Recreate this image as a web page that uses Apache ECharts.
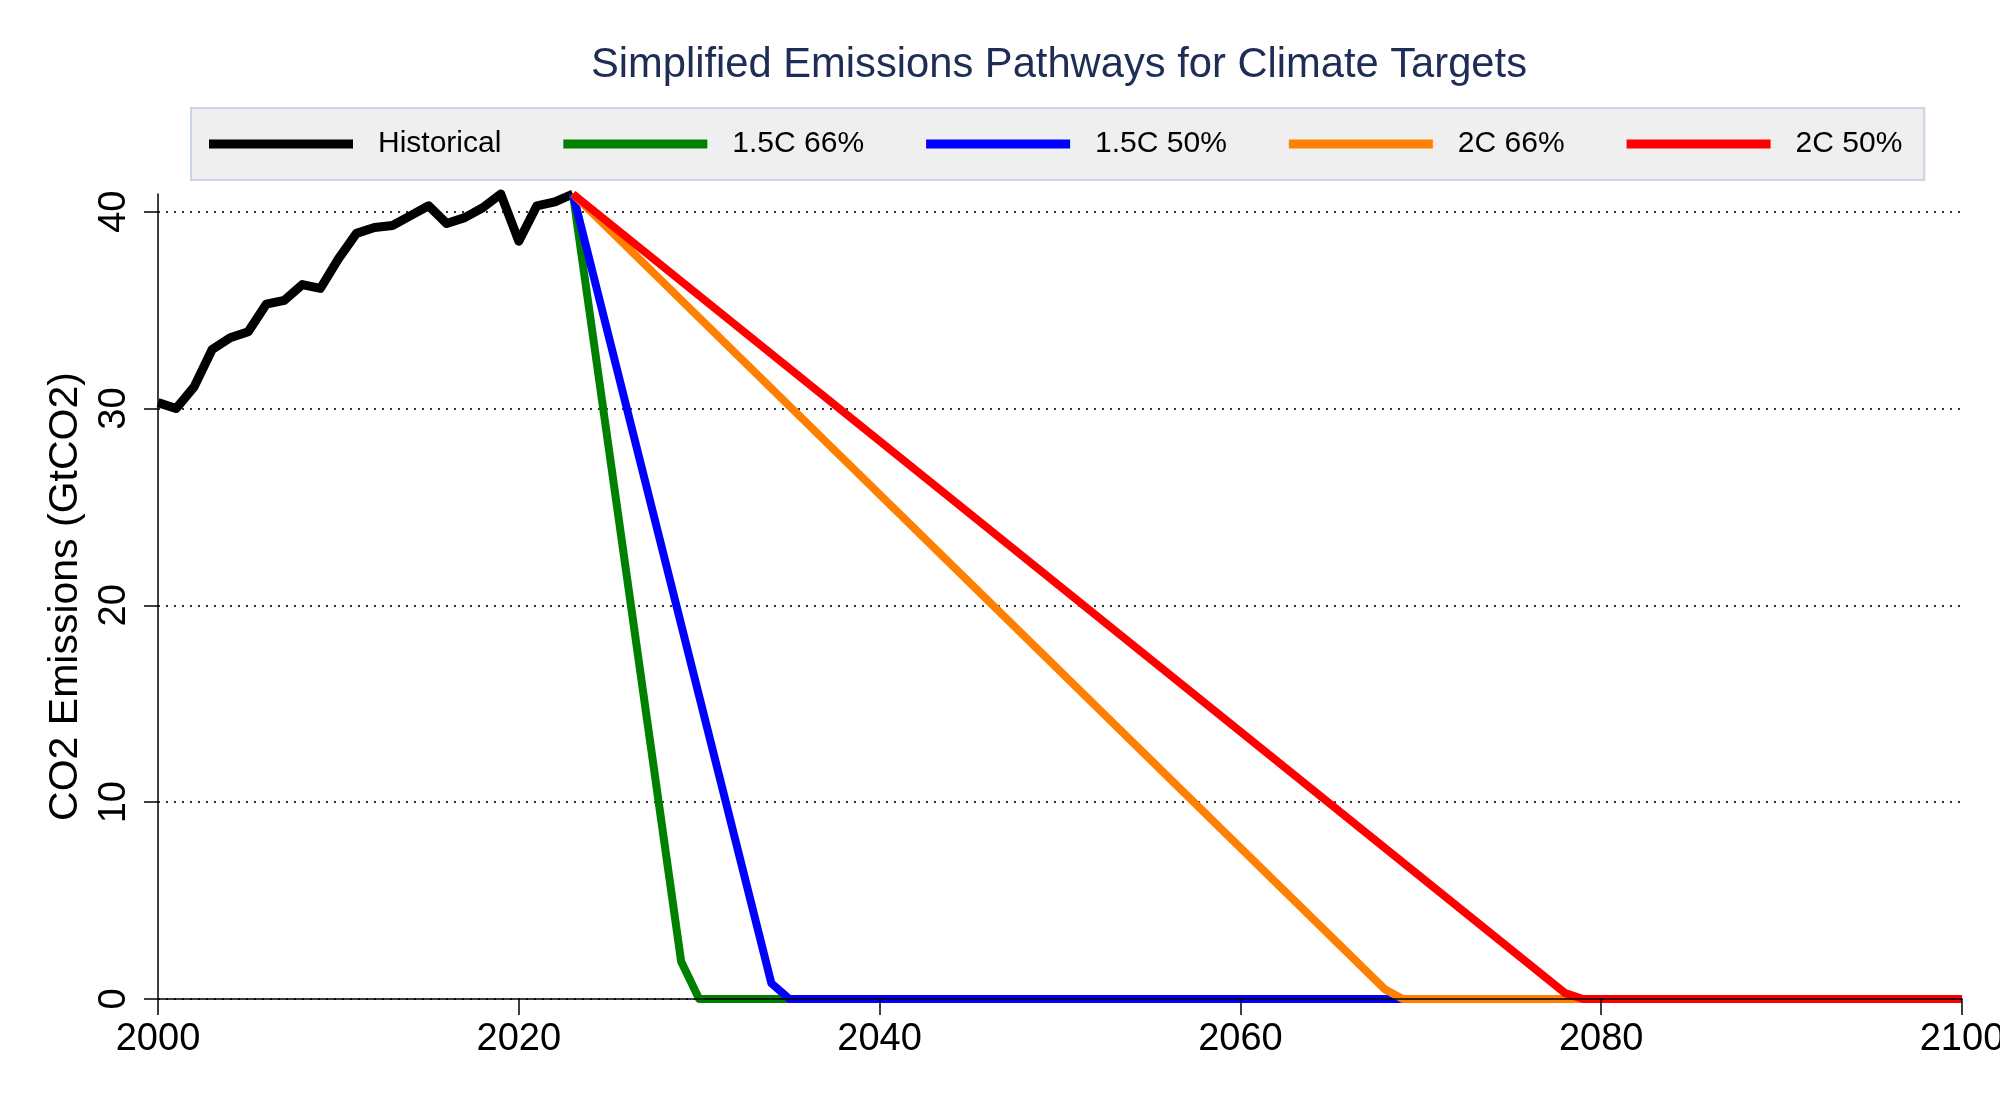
<!DOCTYPE html>
<html>
<head>
<meta charset="utf-8">
<script src="https://cdn.jsdelivr.net/npm/echarts@6/dist/echarts.min.js"></script>
<style>
  html, body { margin: 0; padding: 0; background: #fff; }
  #chart1 { width: 2000px; height: 1112px; }
</style>
</head>
<body>
<div id="chart1"></div>
<script>
// 历史排放 (年份与数值)
var histYears = [2000, 2001, 2002, 2003, 2004, 2005, 2006, 2007, 2008, 2009, 2010, 2011,
                 2012, 2013, 2014, 2015, 2016, 2017, 2018, 2019, 2020, 2021, 2022, 2023];
var histValues = [30.3, 30.0, 31.1, 33.0, 33.6, 33.9, 35.3, 35.5, 36.3, 36.1, 37.6, 38.9,
                  39.2, 39.3, 39.8, 40.3, 39.4, 39.7, 40.2, 40.9, 38.5, 40.3, 40.5, 40.9];

// 各路径的折点 [年份, 排放量]
var path15c66 = [[2023, 40.9], [2029, 1.9], [2030, 0], [2100, 0]];
var path15c50 = [[2023, 40.9], [2034, 0.8], [2035, 0], [2100, 0]];
var path2c66 = [[2023, 40.9], [2068, 0.5], [2069, 0], [2100, 0]];
var path2c50 = [[2023, 40.9], [2078, 0.3], [2079, 0], [2100, 0]];

var seriesNames = ['Historical', '1.5C 66%', '1.5C 50%', '2C 66%', '2C 50%'];
var seriesColors = ['#000000', '#008000', '#0000ff', '#ff8000', '#ff0000'];

var yTicks = [0, 10, 20, 30, 40];

var chart1 = echarts.init(document.getElementById('chart1'));

var histData = histYears.map(function (y, i) { return [y, histValues[i]]; });
var allData = [histData, path15c66, path15c50, path2c66, path2c50];

function lineSeries(i) {
    return {
        name: seriesNames[i],
        type: 'line',
        data: allData[i],
        showSymbol: false,
        clip: false,
        animation: false,
        color: seriesColors[i],
        lineStyle: { color: seriesColors[i], width: i === 0 ? 9 : 8, join: 'round' }
    };
}

var option = {
    animation: false,
    backgroundColor: '#ffffff',
    textStyle: { fontFamily: 'Liberation Sans' },
    title: {
        text: 'Simplified Emissions Pathways for Climate Targets',
        left: 591,
        top: 45,
        padding: 0,
        textStyle: { color: '#1e2d55', fontSize: 41.7, fontWeight: 'normal', fontFamily: 'Liberation Sans' }
    },
    legend: {
        data: seriesNames,
        left: 191,
        top: 108,
        padding: [21, 22, 21, 18],
        itemGap: 62,
        itemWidth: 144,
        itemHeight: 9,
        icon: 'rect',
        backgroundColor: '#efefef',
        borderColor: '#c9d5e2',
        borderWidth: 2,
        textStyle: { color: '#000', fontSize: 30, fontFamily: 'Liberation Sans', padding: [6, 0, 0, 20] }
    },
    grid: {
        left: 158,
        right: 38,
        top: 194,
        bottom: 113,
        containLabel: false,
        outerBoundsMode: 'none'
    },
    xAxis: {
        type: 'value',
        min: 2000,
        max: 2100,
        interval: 20,
        z: 10,
        axisLine: { show: true, onZero: false, lineStyle: { color: '#000', width: 1.5 } },
        axisTick: { show: true, inside: false, length: 16, lineStyle: { color: '#000', width: 1.5 } },
        axisLabel: {
            color: '#000', fontSize: 38, margin: 22, fontFamily: 'Liberation Sans',
            formatter: function (v) { return String(v); }
        },
        splitLine: { show: false }
    },
    yAxis: {
        type: 'value',
        min: 0,
        max: 40.9,
        name: 'CO2 Emissions (GtCO2)',
        nameLocation: 'middle',
        nameGap: 72,
        nameTextStyle: { color: '#000', fontSize: 41, fontFamily: 'Liberation Sans' },
        axisLine: { show: true, lineStyle: { color: '#000', width: 1.5 } },
        axisTick: { show: true, length: 14, lineStyle: { color: '#000', width: 1.5 }, customValues: yTicks },
        axisLabel: { color: '#000', fontSize: 38, rotate: 90, margin: 24, fontFamily: 'Liberation Sans',
                     customValues: yTicks },
        splitLine: { show: true, lineStyle: { color: '#333', width: 2, type: [2, 6] } }
    },
    series: [lineSeries(0), lineSeries(1), lineSeries(2), lineSeries(3), lineSeries(4)]
};

chart1.setOption(option);
</script>
</body>
</html>
